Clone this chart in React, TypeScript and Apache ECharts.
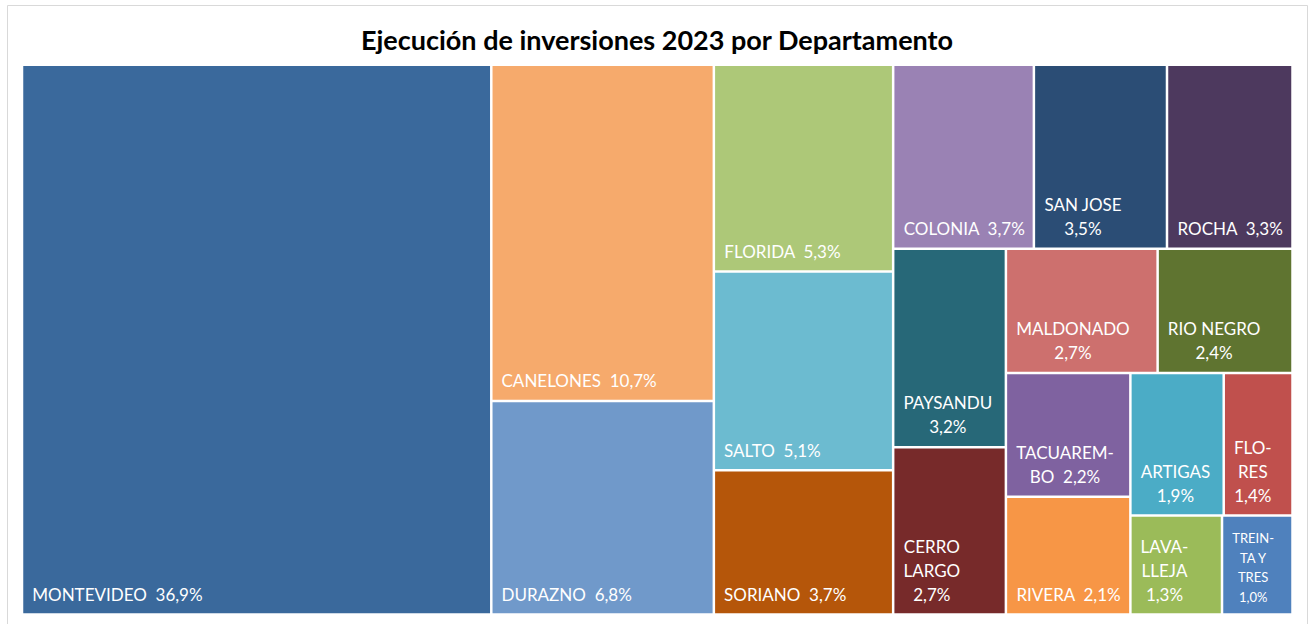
import React, { useEffect, useRef } from "react";
import * as echarts from "echarts";

const TITLE = "Ejecución de inversiones 2023 por Departamento";

const departments = [
  "MONTEVIDEO", "CANELONES", "DURAZNO", "FLORIDA", "SALTO", "SORIANO", "COLONIA",
  "SAN JOSE", "ROCHA", "PAYSANDU", "CERRO LARGO", "MALDONADO", "RIO NEGRO",
  "TACUAREMBO", "RIVERA", "ARTIGAS", "FLORES", "LAVALLEJA", "TREINTA Y TRES",
];

const shares = [36.9, 10.7, 6.8, 5.3, 5.1, 3.7, 3.7, 3.5, 3.3, 3.2, 2.7, 2.7, 2.4, 2.2, 2.1, 1.9, 1.4, 1.3, 1.0];

// Display text as wrapped in the original ({v} = formatted share)
const labelTemplates = [
  "MONTEVIDEO  {v}", "CANELONES  {v}", "DURAZNO  {v}", "FLORIDA  {v}", "SALTO  {v}",
  "SORIANO  {v}", "COLONIA  {v}", "SAN JOSE\n{v}", "ROCHA  {v}", "PAYSANDU\n{v}",
  "CERRO\nLARGO\n{v}", "MALDONADO\n{v}", "RIO NEGRO\n{v}", "TACUAREM-\nBO  {v}",
  "RIVERA  {v}", "ARTIGAS\n{v}", "FLO-\nRES\n{v}", "LAVA-\nLLEJA\n{v}", "TREIN-\nTA Y\nTRES\n{v}",
];

const palette = [
  "#3A699C", "#F6AA6C", "#7099CA", "#ADC878", "#6CBBD0", "#B5560A", "#9A82B4",
  "#2B4D75", "#4D395E", "#276878", "#772A2A", "#CD706E", "#5F7430",
  "#7F62A0", "#F79646", "#4BACC6", "#C0504D", "#9BBB59", "#4F81BD",
];

type Rect = { x: number; y: number; w: number; h: number };

// Squarified strip layout targeting a width/height ratio (Excel-like)
function layoutTreemap(values: number[], rect: Rect, target: number): Rect[] {
  const total = values.reduce((a, b) => a + b, 0);
  const scale = (rect.w * rect.h) / total;
  const areas = values.map((v) => v * scale);
  const out: Rect[] = new Array(values.length);
  let { x, y, w, h } = rect;
  const n = areas.length;
  const measure = (row: number[], vertical: boolean, side: number) => {
    const sum = row.reduce((a, b) => a + b, 0);
    const thick = sum / side;
    let worst = 0;
    for (const a of row) {
      const len = a / thick;
      const ratio = vertical ? thick / len : len / thick;
      worst = Math.max(worst, target / ratio, ratio / target);
    }
    return worst;
  };
  let i = 0;
  while (i < n) {
    const vertical = h <= w;
    const side = vertical ? h : w;
    let row = [areas[i]];
    let best = measure(row, vertical, side);
    let j = i + 1;
    while (j < n) {
      const cand = [...row, areas[j]];
      const m = measure(cand, vertical, side);
      if (m > best) break;
      row = cand;
      best = m;
      j++;
    }
    const sum = row.reduce((a, b) => a + b, 0);
    const thick = sum / side;
    let off = 0;
    row.forEach((a, k) => {
      const len = a / thick;
      out[i + k] = vertical
        ? { x, y: y + off, w: thick, h: len }
        : { x: x + off, y, w: len, h: thick };
      off += len;
    });
    if (vertical) { x += thick; w -= thick; } else { y += thick; h -= thick; }
    i = j;
  }
  return out;
}

const FONT = "Lato, 'Open Sans', sans-serif";

let measureCtx: CanvasRenderingContext2D | null = null;
function textWidth(s: string, size: number): number {
  if (!measureCtx) measureCtx = document.createElement("canvas").getContext("2d");
  if (!measureCtx) return s.length * size * 0.55;
  measureCtx.font = `${size}px Lato`;
  return measureCtx.measureText(s).width;
}

const fmt = (v: number) => v.toFixed(1).replace(".", ",") + "%";

export default function App() {
  const ref = useRef<HTMLDivElement>(null);

  useEffect(() => {
    if (!ref.current) return;
    const chart = echarts.init(ref.current, undefined, { renderer: "svg" });

    const plot: Rect = { x: 22, y: 64.8, w: 1270.5, h: 549.8 };
    const cells = layoutTreemap(shares, plot, 0.8);
    const GAP = 1.25;
    const PAD = 9;
    const BOTTOM = 7;

    const data = departments.map((name, i) => ({ name, value: shares[i] }));

    chart.setOption({
      animation: false,
      backgroundColor: "#ffffff",
      graphic: [
        {
          type: "rect",
          z: -10,
          shape: { x: 7.5, y: 5.5, width: 1300, height: 700 },
          style: { fill: "none", stroke: "#D9D9D9", lineWidth: 1 },
        },
        {
          type: "text",
          x: 657,
          y: 39,
          style: {
            text: TITLE,
            align: "center",
            verticalAlign: "middle",
            fill: "#000000",
            fontFamily: FONT,
            fontWeight: "bold",
            fontSize: 27,
          },
        },
      ],
      series: [
        {
          type: "custom",
          coordinateSystem: "none",
          data,
          renderItem: (params: any, api: any) => {
            const i = params.dataIndex;
            const c = cells[i];
            const x = c.x + GAP, y = c.y + GAP, w = c.w - 2 * GAP, h = c.h - 2 * GAP;
            const text = labelTemplates[i].replace("{v}", fmt(api.value(0)));
            const lines = text.split("\n");
            let size = 17;
            let lh = 24;
            if (lines.length * lh + 16 > h) { size = 13; lh = 19.5; }
            const blockW = Math.max(...lines.map((l) => textWidth(l, size)));
            return {
              type: "group",
              children: [
                { type: "rect", shape: { x, y, width: w, height: h }, style: { fill: palette[i] } },
                {
                  type: "text",
                  style: {
                    text,
                    x: x + PAD + blockW / 2,
                    y: y + h - BOTTOM,
                    align: "center",
                    verticalAlign: "bottom",
                    fill: "#ffffff",
                    fontFamily: FONT,
                    fontSize: size,
                    lineHeight: lh,
                  },
                },
              ],
            };
          },
        },
      ],
    });

    return () => chart.dispose();
  }, []);

  return (
    <div
      ref={ref}
      style={{ position: "fixed", left: 0, top: 0, width: 1309, height: 624 }}
    />
  );
}
